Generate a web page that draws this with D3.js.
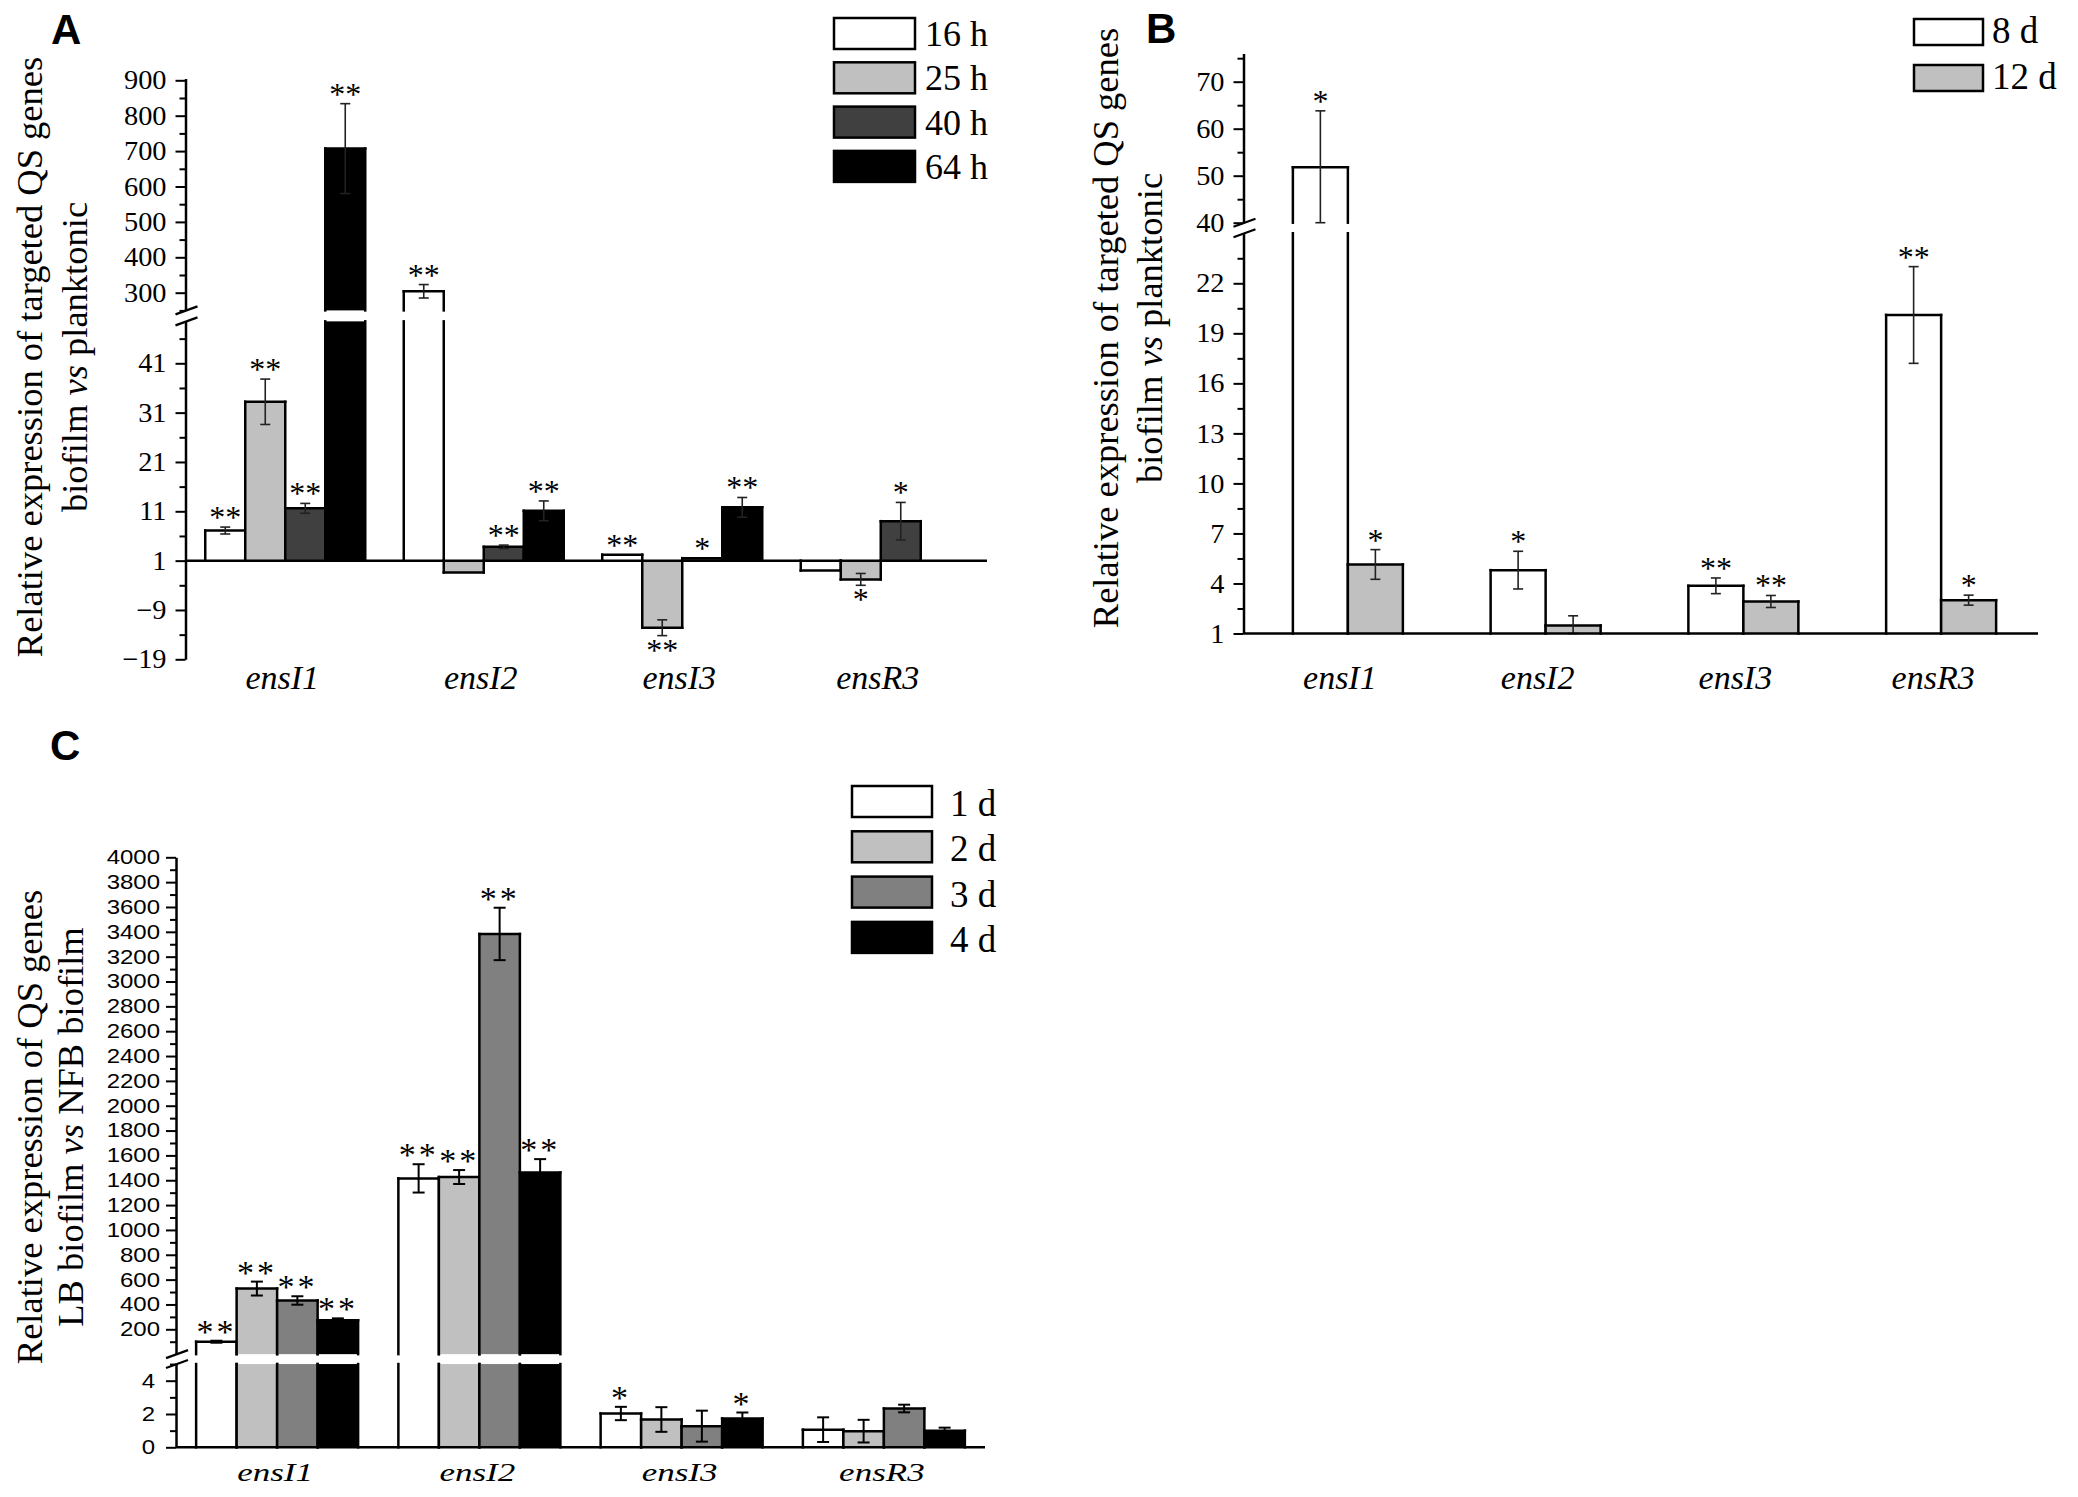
<!DOCTYPE html>
<html><head><meta charset="utf-8">
<script src="https://cdn.jsdelivr.net/npm/d3@7"></script>
<style>body{margin:0;background:#fff} svg{display:block}</style>
</head><body>
<script>
// ---------------- DATA ----------------
const genes = ["ensI1","ensI2","ensI3","ensR3"];

// Panel A : biofilm vs planktonic (16 h, 25 h, 40 h, 64 h)
const seriesA = ["16 h","25 h","40 h","64 h"];
const a16h = [7.1, 304, 2.2, -1.0];
const a25h = [33.2, -1.4, -12.6, -2.8];
const a40h = [11.6, 3.8, 1.5, 9.0];
const a64h = [707, 11.1, 11.8, null];
const a16hErr = [0.7, 19, 0, 0];
const a25hErr = [4.6, 0, 1.6, 1.2];
const a40hErr = [1.0, 0.35, 0, 3.8];
const a64hErr = [127, 2.0, 2.0, null];
const a16hSig = ["**","**","**",""];
const a25hSig = ["**","","**","*"];
const a40hSig = ["**","**","*","*"];
const a64hSig = ["**","**","**",""];
const ticksALower = [-19,-9,1,11,21,31,41];
const minorALower = [-14,-4,6,16,26,36,46];
const ticksAUpper = [300,400,500,600,700,800,900];
const minorAUpper = [250,350,450,550,650,750,850];

// Panel B : biofilm vs planktonic (8 d, 12 d)
const seriesB = ["8 d","12 d"];
const b8d = [51.8, 4.8, 3.86, 20.1];
const b12d = [5.14, 1.48, 2.92, 3.0];
const b8dErr = [12, 1.13, 0.47, 2.9];
const b12dErr = [0.89, 0.58, 0.36, 0.3];
const b8dSig = ["*","*","**","**"];
const b12dSig = ["*","","**","*"];
const ticksBLower = [1,4,7,10,13,16,19,22];
const minorBLower = [2.5,5.5,8.5,11.5,14.5,17.5,20.5,23.5];
const ticksBUpper = [40,50,60,70];
const minorBUpper = [45,55,65,75];

// Panel C : LB biofilm vs NFB biofilm (1 d, 2 d, 3 d, 4 d)
const seriesC = ["1 d","2 d","3 d","4 d"];
const c1d = [100, 1415, 2.03, 1.06];
const c2d = [528, 1426, 1.67, 0.97];
const c3d = [432, 3383, 1.27, 2.33];
const c4d = [272, 1462, 1.73, 1.0];
const c1dErr = [8, 114, 0.4, 0.74];
const c2dErr = [56, 56, 0.74, 0.68];
const c3dErr = [34, 211, 0.93, 0.23];
const c4dErr = [16, 108, 0.36, 0.18];
const c1dSig = ["**","**","*",""];
const c2dSig = ["**","**","",""];
const c3dSig = ["**","**","",""];
const c4dSig = ["**","**","*",""];
const ticksCLower = [0,2,4];
const minorCLower = [1,3,5];
const ticksCUpper = [200,400,600,800,1000,1200,1400,1600,1800,2000,2200,2400,2600,2800,3000,3200,3400,3600,3800,4000];
const minorCUpper = [100,300,500,700,900,1100,1300,1500,1700,1900,2100,2300,2500,2700,2900,3100,3300,3500,3700,3900];

// ---------------- DRAW ----------------
const W = 2078, H = 1497;
const svg = d3.select("body").append("svg").attr("width", W).attr("height", H)
  .attr("viewBox", `0 0 ${W} ${H}`);
svg.append("rect").attr("width", W).attr("height", H).attr("fill", "#fff");

const SERIF = "'Liberation Serif','Times New Roman',serif";
const SANS = "'Liberation Sans',Arial,sans-serif";

function drawPanel(P) {
  const g = svg.append("g");
  const xc = d3.scalePoint().domain(genes).range(P.xRange).padding(0.5);
  const xb = d3.scaleBand().domain(P.series).range([-P.groupW / 2, P.groupW / 2]);
  const color = d3.scaleOrdinal().domain(P.series).range(P.colors);

  const segs = P.segments.map(s => {
    const anchor = d3.scaleLinear().domain(s.anchorVals).range(s.anchorPx);
    const sc = d3.scaleLinear().domain(s.extent).range(s.extent.map(anchor));
    return Object.assign({}, s, { sc });
  });
  const lower = segs[0], upper = segs[1];
  const segOf = v => (v > lower.extent[1] ? upper : lower);

  // bars
  const data = [];
  P.series.forEach((s, si) => {
    genes.forEach((gn, gi) => {
      const v = P.values[si][gi];
      if (v === null || v === undefined) return;
      data.push({ s, gn, v, e: P.errors[si][gi] || 0, sig: P.sig[si][gi] });
    });
  });
  const base = P.base;
  data.forEach(d => {
    const x0 = xc(d.gn) + xb(d.s), x1 = x0 + xb.bandwidth();
    const lo = Math.min(base, d.v), hi = Math.max(base, d.v);
    const pieces = [];
    pieces.push({ s: lower, a: Math.max(lo, lower.extent[0]), b: Math.min(hi, lower.extent[1]) });
    if (hi > lower.extent[1]) pieces.push({ s: upper, a: upper.extent[0], b: Math.min(hi, upper.extent[1]) });
    pieces.forEach(p => {
      if (p.a >= p.b) return;
      const s = p.s;
      const yA = s.sc(p.a), yB = s.sc(p.b);
      g.append("rect").attr("x", x0).attr("width", x1 - x0)
        .attr("y", yB).attr("height", yA - yB).attr("fill", color(d.s));
      const line = (pts) => g.append("path").attr("d", d3.line()(pts))
        .attr("fill", "none").attr("stroke", "#000").attr("stroke-width", P.barStroke)
        .attr("stroke-linecap", "square");
      line([[x0, yA], [x0, yB]]);
      line([[x1, yA], [x1, yB]]);
      if (segOf(d.v) === s) line([[x0, s.sc(d.v)], [x1, s.sc(d.v)]]);
    });
  });

  // error bars
  data.forEach(d => {
    if (!d.e) return;
    const s = segOf(d.v);
    const cx = xc(d.gn) + xb(d.s) + xb.bandwidth() / 2;
    const eLo = Math.max(d.v - d.e, s.extent[0]), eHi = Math.min(d.v + d.e, s.extent[1]);
    const st = (sel) => sel.attr("stroke", P.errColor).attr("stroke-width", P.errStroke).attr("fill", "none");
    st(g.append("path").attr("d", d3.line()([[cx, s.sc(eLo)], [cx, s.sc(eHi)]])));
    [eLo, eHi].forEach(v => st(g.append("path").attr("d", d3.line()([[cx - P.capW, s.sc(v)], [cx + P.capW, s.sc(v)]]))));
  });

  // significance stars
  data.forEach(d => {
    if (!d.sig) return;
    const s = segOf(d.v);
    const cx = xc(d.gn) + xb(d.s) + xb.bandwidth() / 2;
    let y;
    if (d.v >= base) y = s.sc(Math.min(d.v + d.e, s.extent[1])) + P.starUp;
    else y = s.sc(Math.max(d.v - d.e, s.extent[0])) + P.starDown;
    g.append("text").attr("x", cx).attr("y", y).attr("text-anchor", "middle")
      .attr("font-family", SERIF).attr("font-size", P.starSize)
      .attr("letter-spacing", P.starSpacing).text(d.sig);
  });

  // y axis segments
  segs.forEach(s => {
    const ax = g.append("g").attr("transform", `translate(${P.axisX},0)`)
      .call(d3.axisLeft(s.sc).tickValues(s.ticks).tickFormat(d3.format("d"))
        .tickSize(10).tickSizeOuter(0).tickPadding(9));
    ax.attr("font-family", P.tickFont).attr("font-size", P.tickSize);
    ax.select(".domain").attr("stroke", "#000").attr("stroke-width", 2.5);
    ax.selectAll(".tick line").attr("stroke", "#000").attr("stroke-width", 2);
    ax.selectAll(".tick text").attr("font-family", P.tickFont).attr("font-size", P.tickSize)
      .attr("fill", "#000")
      .attr("transform", `scale(${P.tickSx},1)`)
      .attr("x", s.labelX / P.tickSx);
    const mn = g.append("g").attr("transform", `translate(${P.axisX},0)`)
      .call(d3.axisLeft(s.sc).tickValues(s.minor.filter(v => v >= s.extent[0] && v <= s.extent[1]))
        .tickSize(6).tickSizeOuter(0).tickFormat(""));
    mn.select(".domain").remove();
    mn.selectAll(".tick line").attr("stroke", "#000").attr("stroke-width", 2);
  });

  // break marks on y axis
  const yBreakLow = lower.sc(lower.extent[1]);
  const yBreakHigh = upper.sc(upper.extent[0]);
  [yBreakHigh, yBreakLow].forEach(y => {
    g.append("path").attr("d", d3.line()([[P.axisX - 10, y + 4], [P.axisX + 12, y - 4]]))
      .attr("stroke", "#000").attr("stroke-width", 2.2);
  });

  // x axis at baseline
  const yb = lower.sc(base);
  g.append("path").attr("d", d3.line()([[P.axisX, yb], [P.axisEnd, yb]]))
    .attr("stroke", "#000").attr("stroke-width", 2.5);

  // category labels
  genes.forEach(gn => {
    g.append("text").attr("transform", `translate(${xc(gn) + P.catDx},${P.catY}) scale(${P.catSx},1)`)
      .attr("text-anchor", "middle").attr("font-family", SERIF).attr("font-style", "italic")
      .attr("font-size", P.catSize).text(gn);
  });

  // y title (two rotated lines)
  P.title.forEach((ln, i) => {
    const t = g.append("text")
      .attr("transform", `translate(${P.titleX[i]},${P.titleY}) rotate(-90)`)
      .attr("text-anchor", "middle").attr("font-family", SERIF).attr("font-size", 36.5);
    ln.forEach(part => t.append("tspan").attr("font-style", part.it ? "italic" : "normal").text(part.t));
  });

  // legend
  P.series.forEach((s, i) => {
    const L = P.legend;
    const y = L.y + i * L.dy;
    g.append("rect").attr("x", L.x).attr("y", y).attr("width", L.w).attr("height", L.h)
      .attr("fill", color(s)).attr("stroke", "#000").attr("stroke-width", 2.5);
    g.append("text").attr("x", L.tx).attr("y", y + L.tdy).attr("font-family", SERIF)
      .attr("font-size", L.fs).text(s);
  });

  // panel label
  g.append("text").attr("x", P.label.x).attr("y", P.label.y).attr("font-family", SANS)
    .attr("font-weight", "bold").attr("font-size", 42).text(P.label.t);
}

drawPanel({
  series: seriesA, values: [a16h, a25h, a40h, a64h], errors: [a16hErr, a25hErr, a40hErr, a64hErr],
  sig: [a16hSig, a25hSig, a40hSig, a64hSig],
  colors: ["#ffffff", "#c0c0c0", "#404040", "#000000"],
  base: 1, xRange: [186, 980], groupW: 160, axisX: 185.5, axisEnd: 987,
  segments: [
    { anchorVals: [-19, 41], anchorPx: [659.3, 363.3], extent: [-19, 49.5], ticks: ticksALower, minor: minorALower, labelX: -19 },
    { anchorVals: [300, 900], anchorPx: [292.7, 80.3], extent: [250, 905], ticks: ticksAUpper, minor: minorAUpper, labelX: -19 }
  ],
  barStroke: 2.5, errColor: "#222", errStroke: 1.6, capW: 5,
  starUp: 1, starDown: 25, starSize: 32, starSpacing: 0,
  tickFont: SERIF, tickSize: 27, tickSx: 1.05,
  catY: 689, catDx: -3, catSize: 34, catSx: 1,
  title: [[{ t: "Relative expression of targeted QS genes" }], [{ t: "biofilm " }, { t: "vs", it: true }, { t: " planktonic" }]],
  titleX: [42, 87], titleY: 357,
  legend: { x: 834, y: 18, dy: 44.3, w: 81, h: 31, tx: 925, tdy: 28, fs: 36 },
  label: { x: 51, y: 44, t: "A" }
});

drawPanel({
  series: seriesB, values: [b8d, b12d], errors: [b8dErr, b12dErr], sig: [b8dSig, b12dSig],
  colors: ["#ffffff", "#c0c0c0"],
  base: 1, xRange: [1249, 2040], groupW: 110, axisX: 1243.5, axisEnd: 2038,
  segments: [
    { anchorVals: [1, 22], anchorPx: [633.5, 283.3], extent: [1, 25], ticks: ticksBLower, minor: minorBLower, labelX: -19 },
    { anchorVals: [40, 70], anchorPx: [222.7, 81.7], extent: [40, 76], ticks: ticksBUpper, minor: minorBUpper, labelX: -19 }
  ],
  barStroke: 2.5, errColor: "#222", errStroke: 1.6, capW: 5,
  starUp: 1, starDown: 25, starSize: 32, starSpacing: 0,
  tickFont: SERIF, tickSize: 27, tickSx: 1.05,
  catY: 689, catDx: -8, catSize: 34, catSx: 1,
  title: [[{ t: "Relative expression of targeted QS genes" }], [{ t: "biofilm " }, { t: "vs", it: true }, { t: " planktonic" }]],
  titleX: [1118, 1162], titleY: 328,
  legend: { x: 1914, y: 19, dy: 46, w: 69, h: 26, tx: 1992, tdy: 24, fs: 37 },
  label: { x: 1146, y: 43, t: "B" }
});

drawPanel({
  series: seriesC, values: [c1d, c2d, c3d, c4d], errors: [c1dErr, c2dErr, c3dErr, c4dErr],
  sig: [c1dSig, c2dSig, c3dSig, c4dSig],
  colors: ["#ffffff", "#c0c0c0", "#808080", "#000000"],
  base: 0, xRange: [176, 985], groupW: 162, axisX: 176, axisEnd: 985,
  segments: [
    { anchorVals: [0, 4], anchorPx: [1447.3, 1380.7], extent: [0, 5], ticks: ticksCLower, minor: minorCLower, labelX: -21 },
    { anchorVals: [200, 4000], anchorPx: [1329.3, 857.3], extent: [0, 4000], ticks: ticksCUpper, minor: minorCUpper, labelX: -16 }
  ],
  barStroke: 2.5, errColor: "#000", errStroke: 2, capW: 6,
  starUp: 2, starDown: 28, starSize: 34, starSpacing: 3,
  tickFont: SANS, tickSize: 20, tickSx: 1.2,
  catY: 1481, catDx: -2, catSize: 25, catSx: 1.4,
  title: [[{ t: "Relative expression of QS genes" }], [{ t: "LB biofilm " }, { t: "vs", it: true }, { t: " NFB biofilm" }]],
  titleX: [42, 83], titleY: 1127,
  legend: { x: 852, y: 786, dy: 45.3, w: 80, h: 31, tx: 950, tdy: 30, fs: 37 },
  label: { x: 50, y: 760, t: "C" }
});
</script>
</body></html>
